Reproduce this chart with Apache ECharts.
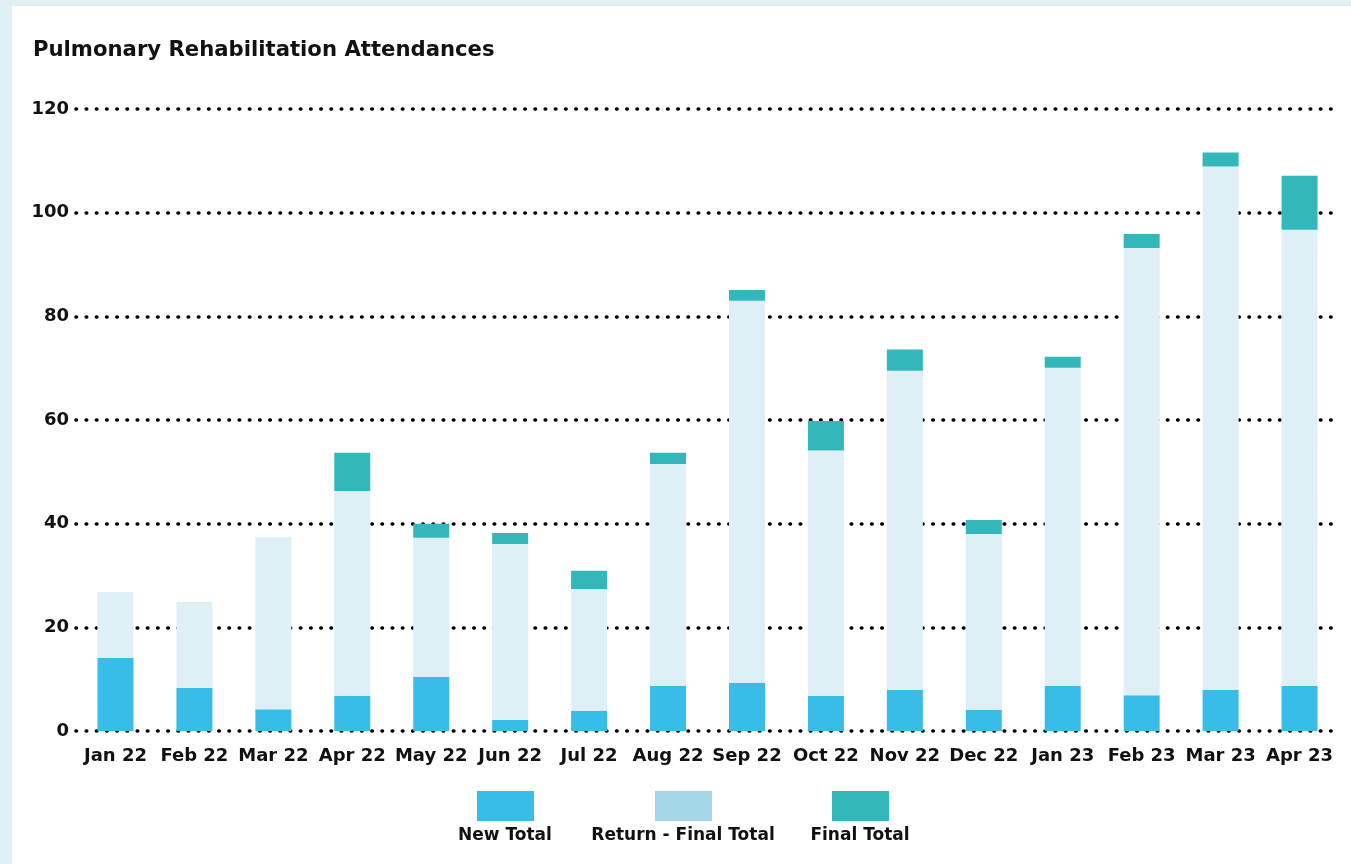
<!DOCTYPE html>
<html>
<head>
<meta charset="utf-8">
<title>Pulmonary Rehabilitation Attendances</title>
<script src="https://cdn.jsdelivr.net/npm/echarts@6/dist/echarts.min.js"></script>
<style>
    html, body {
        margin: 0;
        padding: 0;
        background: #deeff6;
    }
    .panel {
        position: absolute;
        left: 12px;
        top: 6px;
        right: 0;
        bottom: 0;
        background: #fff;
    }
    #chart {
        position: absolute;
        left: 0;
        top: 0;
        width: 1351px;
        height: 864px;
    }
</style>
</head>
<body>
<div class="panel"></div>
<div id="chart"></div>
<script>
// months on the x axis
var months = ['Jan 22', 'Feb 22', 'Mar 22', 'Apr 22', 'May 22', 'Jun 22', 'Jul 22', 'Aug 22',
    'Sep 22', 'Oct 22', 'Nov 22', 'Dec 22', 'Jan 23', 'Feb 23', 'Mar 23', 'Apr 23'];

// stacked values, bottom to top
var newTotal = [14.1, 8.3, 4.2, 6.8, 10.4, 2.1, 3.9, 8.7, 9.3, 6.8, 7.9, 4.1, 8.7, 6.9, 7.9, 8.7];
var returnFinal = [12.7, 16.6, 33.2, 39.5, 26.9, 34.0, 23.5, 42.8, 73.7, 47.3, 61.6, 33.9, 61.4, 86.3, 101.0, 88.0];
var finalTotal = [0, 0, 0, 7.4, 2.7, 2.1, 3.5, 2.2, 2.1, 5.7, 4.1, 2.7, 2.1, 2.7, 2.7, 10.4];

var yTicks = [0, 20, 40, 60, 80, 100, 120];
var seriesNames = ['New Total', 'Return - Final Total', 'Final Total'];

var FONT = 'DejaVu Sans';

var chart = echarts.init(document.getElementById('chart'));

// legend: icon on top, label under it
function legendAt(name, left, color) {
    return {
        data: [{ name: name, itemStyle: { color: color } }],
        left: left,
        top: 791,
        itemWidth: 57,
        itemHeight: 30,
        itemGap: 0,
        padding: 0,
        icon: 'rect',
        selectedMode: false,
        formatter: function () { return ''; }
    };
}

function legendLabel(text, cx) {
    return {
        type: 'text',
        x: cx,
        y: 836,
        style: {
            text: text,
            fontFamily: FONT,
            fontWeight: 'bold',
            fontSize: 17,
            fill: '#111',
            align: 'center',
            verticalAlign: 'middle'
        }
    };
}

var option = {
    animation: false,
    title: {
        text: 'Pulmonary Rehabilitation Attendances',
        left: 33,
        top: 40,
        padding: 0,
        textStyle: {
            fontFamily: FONT,
            fontWeight: 'bold',
            fontSize: 21.2,
            color: '#111'
        }
    },
    legend: [
        legendAt(seriesNames[0], 477, '#38bde8'),
        legendAt(seriesNames[1], 655, '#a4d8e6'),
        legendAt(seriesNames[2], 832, '#33b7bb')
    ],
    graphic: [
        legendLabel(seriesNames[0], 505),
        legendLabel(seriesNames[1], 683),
        legendLabel(seriesNames[2], 860)
    ],
    grid: {
        left: 76,
        right: 12,
        top: 109,
        bottom: 133
    },
    xAxis: {
        type: 'category',
        data: months,
        axisTick: { show: false },
        axisLine: { show: false },
        axisLabel: {
            margin: 16,
            fontFamily: FONT,
            fontWeight: 'bold',
            fontSize: 18,
            color: '#111',
            interval: 0
        }
    },
    yAxis: {
        type: 'value',
        min: yTicks[0],
        max: yTicks[yTicks.length - 1],
        interval: yTicks[1] - yTicks[0],
        axisTick: { show: false },
        axisLine: { show: false },
        axisLabel: {
            margin: 7,
            fontFamily: FONT,
            fontWeight: 'bold',
            fontSize: 18,
            color: '#111'
        },
        splitLine: {
            lineStyle: {
                color: '#000',
                width: 3.6,
                type: [0.5, 9.7],
                cap: 'round'
            }
        }
    },
    series: [
        {
            name: seriesNames[0],
            type: 'bar',
            stack: 'total',
            barWidth: 36,
            itemStyle: { color: '#38bde8' },
            data: newTotal
        },
        {
            name: seriesNames[1],
            type: 'bar',
            stack: 'total',
            barWidth: 36,
            itemStyle: { color: '#deeff6' },
            data: returnFinal
        },
        {
            name: seriesNames[2],
            type: 'bar',
            stack: 'total',
            barWidth: 36,
            itemStyle: { color: '#33b7bb' },
            data: finalTotal
        }
    ]
};

chart.setOption(option);
</script>
</body>
</html>
